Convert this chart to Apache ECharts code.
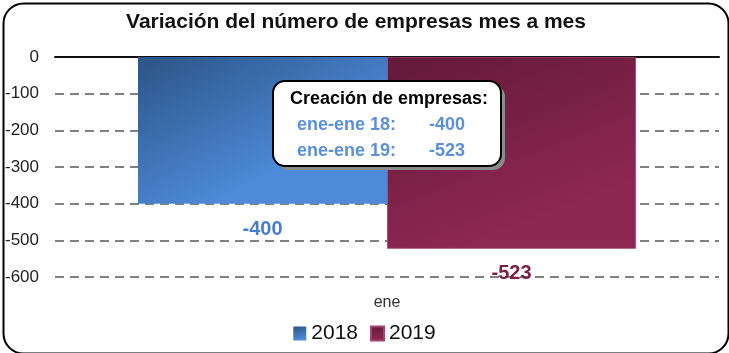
<!DOCTYPE html>
<html>
<head>
<meta charset="utf-8">
<script src="https://cdn.jsdelivr.net/npm/echarts@6/dist/echarts.min.js"></script>
<style>
  html, body { margin: 0; padding: 0; background: #fff; }
  #chart { width: 729px; height: 353px; }
</style>
</head>
<body>
<div id="chart"></div>
<script>
const categories = ['ene'];
const seriesNames = ['2018', '2019'];
const values2018 = [-400];
const values2019 = [-523];
const yTicks = { min: -600, max: 0, step: 100 };
const boxTitle = 'Creación de empresas:';
const boxRows = [['ene-ene 18:', '-400'], ['ene-ene 19:', '-523']];

const FONT = '"Liberation Sans", Arial, sans-serif';

const blueFill = new echarts.graphic.LinearGradient(0, 0, 0.3, 1, [
  { offset: 0, color: '#2c5486' },
  { offset: 1, color: '#4d8ad8' }
]);
const wineFill = new echarts.graphic.LinearGradient(0, 0, 0.3, 1, [
  { offset: 0, color: '#621a37' },
  { offset: 1, color: '#8e2752' }
]);

const chart = echarts.init(document.getElementById('chart'));

// annotation box (drawn above the bars)
const BOX_Z = 100;
const boxChildren = [
  {
    type: 'rect', x: 4, y: 4, z: BOX_Z,
    shape: { width: 228, height: 85, r: 12 },
    style: { fill: '#8a8a8a' }
  },
  {
    type: 'rect', z: BOX_Z + 1,
    shape: { width: 228, height: 85, r: 12 },
    style: { fill: '#fff', stroke: '#000', lineWidth: 2 }
  },
  {
    type: 'text', x: 116, y: 18, z: BOX_Z + 2,
    style: {
      text: boxTitle, align: 'center', verticalAlign: 'middle',
      font: 'bold 18px ' + FONT, fill: '#000'
    }
  }
];
boxRows.forEach((row, i) => {
  boxChildren.push({
    type: 'text', x: 24, y: 44 + i * 26, z: BOX_Z + 2,
    style: { text: row[0], verticalAlign: 'middle', font: 'bold 18px ' + FONT, fill: '#5b8fd6' }
  });
  boxChildren.push({
    type: 'text', x: 156, y: 44 + i * 26, z: BOX_Z + 2,
    style: { text: row[1], verticalAlign: 'middle', font: 'bold 18px ' + FONT, fill: '#5b8fd6' }
  });
});

const option = {
  animation: false,
  title: {
    text: 'Variación del número de empresas mes a mes',
    left: 351,
    top: 7,
    textAlign: 'center',
    textStyle: { fontFamily: FONT, fontSize: 21, fontWeight: 'bold', color: '#111' }
  },
  legend: {
    data: seriesNames,
    top: 318,
    left: 'center',
    itemWidth: 13,
    itemHeight: 14,
    itemGap: 12,
    icon: 'rect',
    textStyle: { fontFamily: FONT, fontSize: 21, color: '#111' }
  },
  grid: { left: 55, right: 10, top: 57, bottom: 76 },
  xAxis: [{
    type: 'category',
    data: categories,
    position: 'bottom',
    axisLine: { show: false, onZero: false },
    axisTick: { show: false },
    axisLabel: { margin: 18, fontFamily: FONT, fontSize: 16, color: '#333' }
  }, {
    type: 'category',
    data: categories,
    position: 'top',
    axisLine: { show: true, onZero: false, lineStyle: { color: '#111', width: 2 } },
    axisTick: { show: false },
    axisLabel: { show: false }
  }],
  yAxis: {
    type: 'value',
    min: yTicks.min,
    max: yTicks.max,
    interval: yTicks.step,
    axisLine: { show: false },
    axisTick: { show: false },
    axisLabel: { margin: 16, fontFamily: FONT, fontSize: 17, color: '#222' },
    splitLine: { lineStyle: { color: '#808080', width: 2, type: [9, 6] } }
  },
  series: [{
    name: seriesNames[0],
    type: 'bar',
    data: values2018,
    barGap: '0%',
    barCategoryGap: '25%',
    itemStyle: { color: blueFill },
    label: {
      show: true,
      position: 'bottom',
      distance: 16,
      fontFamily: FONT, fontSize: 20, fontWeight: 'bold', color: '#4a7fc8'
    }
  }, {
    name: seriesNames[1],
    type: 'bar',
    data: values2019,
    itemStyle: { color: wineFill, borderColor: '#a3456f', borderWidth: 0.8 },
    label: {
      show: true,
      position: 'bottom',
      distance: 15,
      fontFamily: FONT, fontSize: 20, fontWeight: 'bold', color: '#7b2046'
    }
  }],
  graphic: [
    {
      type: 'rect',
      left: 1, top: 1, z: BOX_Z,
      shape: { width: 725, height: 350, r: 20 },
      style: { fill: 'none', stroke: '#000', lineWidth: 2 }
    },
    {
      type: 'group',
      left: 272, top: 80,
      z: BOX_Z,
      children: boxChildren
    }
  ]
};

chart.setOption(option);
</script>
</body>
</html>
